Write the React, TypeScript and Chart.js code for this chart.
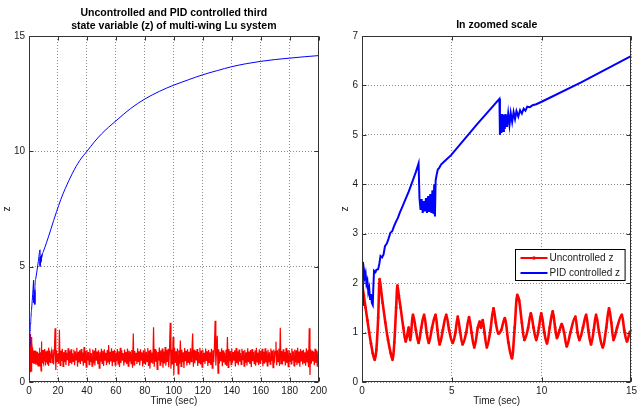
import React, { useEffect, useRef } from "react";
import { Chart, registerables } from "chart.js";
Chart.register(...registerables);

// ---------- DATA ----------
// Uncontrolled z, detailed window 0..15 s  [t, z]
const uncontrolledZoom: [number, number][] = [
  [0, 2.0], [0.1, 1.75], [0.2, 1.5], [0.3, 1.25], [0.4, 1.0], [0.5, 0.78], [0.6, 0.58], [0.71, 0.45],
  [0.8, 0.65], [0.9, 1.3], [0.98, 2.08], [1.05, 1.9], [1.15, 1.6], [1.3, 1.2], [1.45, 0.85], [1.6, 0.58],
  [1.7, 0.45], [1.8, 0.8], [1.9, 1.5], [1.97, 1.95], [2.05, 1.75], [2.15, 1.5], [2.3, 1.1], [2.43, 0.82],
  [2.52, 0.95], [2.6, 1.1], [2.68, 0.85], [2.84, 1.36], [3.0, 1.05], [3.15, 0.79], [3.3, 1.1], [3.46, 1.36],
  [3.6, 1.0], [3.72, 0.79], [3.9, 1.1], [4.1, 1.36], [4.2, 1.05], [4.32, 0.76], [4.5, 1.05], [4.69, 1.36],
  [4.85, 1.05], [5.05, 0.79], [5.2, 1.0], [5.33, 1.32], [5.45, 1.05], [5.6, 0.76], [5.8, 1.0], [5.96, 1.31],
  [6.1, 1.0], [6.25, 0.7], [6.45, 1.1], [6.55, 1.22], [6.62, 1.1], [6.72, 1.25], [6.82, 1.0], [6.95, 0.7],
  [7.15, 1.05], [7.32, 1.49], [7.45, 1.2], [7.59, 0.98], [7.75, 1.05], [7.95, 1.29], [8.15, 0.8], [8.35, 0.48],
  [8.5, 1.1], [8.64, 1.76], [8.75, 1.65], [8.9, 1.2], [9.04, 0.85], [9.25, 1.1], [9.4, 1.39], [9.55, 1.1],
  [9.7, 0.85], [9.85, 1.1], [9.98, 1.39], [10.15, 1.0], [10.3, 0.78], [10.45, 1.1], [10.62, 1.43], [10.75, 1.1],
  [10.85, 0.89], [11.0, 1.05], [11.12, 1.17], [11.25, 1.0], [11.4, 0.72], [11.6, 1.0], [11.88, 1.32], [12.0, 1.0],
  [12.1, 0.85], [12.3, 1.1], [12.48, 1.36], [12.6, 1.05], [12.75, 0.76], [12.9, 1.05], [13.03, 1.36], [13.2, 1.0],
  [13.4, 0.7], [13.6, 1.1], [13.75, 1.49], [13.88, 1.2], [14.0, 0.85], [14.2, 1.1], [14.47, 1.36], [14.6, 1.05],
  [14.75, 0.82], [14.9, 1.0], [15.0, 1.05],
];

// Uncontrolled z, long run: one sample every 0.5 s starting at t = 15.5 s
const noiseStartTime = 15.5;
const noiseStep = 0.5;
const uncontrolledLongRun: number[] = [
  1.32, 0.84, 1.41, 0.76, 1.29, 2.33, 0.52, 1.38, 0.88, 1.25,
  0.79, 2.27, 0.72, 1.36, 0.91, 1.44, 0.68, 1.30, 0.86, 1.39,
  0.74, 1.27, 0.94, 1.46, 0.70, 1.35, 0.83, 1.42, 0.77, 1.24,
  0.89, 1.40, 0.73, 1.33, 0.96, 1.48, 0.66, 1.31, 0.85, 1.37,
  0.78, 1.43, 0.90, 1.28, 0.71, 1.52, 0.82, 1.34, 0.64, 1.39,
  0.93, 1.30, 0.75, 1.45, 0.87, 1.26, 0.69, 1.41, 0.80, 1.36,
  0.72, 1.47, 0.92, 1.32, 0.77, 1.38, 0.60, 1.29, 0.88, 1.44,
  0.81, 1.35, 0.70, 1.42, 0.95, 1.27, 0.74, 1.39, 0.84, 1.60,
  0.76, 1.31, 0.89, 1.46, 0.68, 1.34, 0.86, 1.40, 0.73, 1.28,
  0.90, 1.43, 0.79, 1.33, 0.65, 1.48, 0.83, 1.37, 0.92, 1.25,
  0.71, 1.41, 0.85, 1.30, 0.77, 1.45, 0.69, 1.36, 0.88, 1.32,
  0.80, 1.39, 0.62, 2.10, 0.74, 1.34, 0.91, 1.27, 0.78, 1.46,
  0.86, 1.33, 0.72, 1.42, 0.95, 1.29, 0.67, 1.38, 0.82, 1.44,
  0.75, 1.31, 0.89, 1.47, 0.70, 1.36, 0.58, 1.40, 0.84, 1.28,
  0.79, 2.37, 0.66, 1.43, 0.88, 1.35, 0.55, 1.30, 0.92, 1.49,
  0.73, 1.37, 0.85, 1.45, 0.62, 1.32, 0.80, 1.52, 0.71, 1.39,
  0.87, 1.44, 0.64, 1.36, 2.57, 0.58, 1.41, 0.76, 1.95, 0.30,
  1.48, 0.82, 1.33, 0.70, 1.45, 0.35, 1.38, 0.79, 1.80, 0.68,
  1.40, 0.86, 1.29, 0.61, 1.47, 0.90, 1.35, 0.72, 1.42, 0.83,
  1.31, 0.75, 1.46, 0.88, 1.37, 2.10, 0.66, 1.40, 0.81, 1.34,
  0.93, 1.43, 0.70, 1.30, 0.84, 1.48, 0.76, 1.36, 0.64, 1.41,
  0.87, 1.27, 0.78, 1.45, 0.91, 1.33, 0.69, 1.39, 0.82, 1.29,
  0.74, 1.44, 0.60, 1.38, 0.86, 1.47, 2.66, 0.72, 1.35, 2.00,
  0.38, 1.42, 0.80, 1.31, 0.90, 1.46, 0.68, 1.37, 0.85, 1.28,
  0.77, 1.40, 0.70, 1.95, 0.63, 1.43, 0.89, 1.34, 0.75, 1.45,
  0.84, 1.30, 0.92, 1.38, 0.67, 1.47, 0.81, 1.33, 0.73, 1.41,
  0.88, 1.26, 0.76, 1.44, 0.94, 1.35, 0.69, 1.40, 0.83, 1.29,
  0.72, 1.46, 0.86, 1.32, 0.78, 1.39, 0.65, 1.43, 0.90, 1.30,
  0.80, 1.37, 0.71, 1.48, 0.87, 1.28, 0.74, 1.42, 0.82, 1.35,
  0.93, 1.44, 0.68, 1.31, 0.79, 1.46, 0.85, 1.33, 0.70, 1.40,
  0.86, 1.29, 0.77, 1.45, 0.91, 1.36, 0.62, 1.41, 0.84, 1.32,
  1.75, 0.73, 1.38, 0.88, 1.44, 0.69, 2.35, 0.80, 1.34, 0.76,
  1.42, 0.90, 1.30, 0.72, 1.47, 0.83, 1.36, 0.67, 1.39, 0.87,
  1.27, 0.78, 1.45, 0.92, 1.33, 0.70, 1.41, 0.85, 1.37, 0.74,
  1.48, 0.81, 1.32, 0.66, 1.43, 0.89, 1.35, 0.76, 1.40, 0.84,
  1.29, 0.71, 1.46, 0.87, 1.38, 0.64, 2.33, 0.30, 1.42, 0.79,
  1.36, 0.90, 1.31, 0.73, 1.44, 0.82, 1.37, 0.69, 1.33, 0.95,
];

// PID controlled z, detailed window 0..15 s  [t, z]
const pidZoom: [number, number][] = [
  [0, 1.56], [0.05, 2.43], [0.1, 2.3], [0.15, 2.12], [0.2, 2.2], [0.25, 1.98], [0.3, 2.05], [0.35, 1.82],
  [0.4, 1.9], [0.45, 1.68], [0.5, 1.78], [0.55, 1.6], [0.6, 1.56], [0.63, 1.9], [0.67, 2.25], [0.75, 2.22],
  [0.8, 2.27], [0.9, 2.28], [0.97, 2.4], [1.03, 2.55], [1.12, 2.52], [1.2, 2.58], [1.28, 2.75], [1.38, 2.8],
  [1.48, 2.9], [1.58, 3.02], [1.68, 3.05], [1.78, 3.15], [1.9, 3.25], [2.0, 3.32], [2.1, 3.42], [2.25, 3.55],
  [2.4, 3.68], [2.6, 3.85], [2.8, 4.05], [3.0, 4.25], [3.15, 4.42],
  [3.2, 3.72], [3.26, 3.48], [3.32, 3.7], [3.38, 3.42], [3.44, 3.66], [3.5, 3.45], [3.56, 3.72], [3.62, 3.42],
  [3.68, 3.76], [3.74, 3.44], [3.8, 3.8], [3.86, 3.42], [3.92, 3.88], [3.98, 3.4], [4.02, 4.0], [4.06, 3.35],
  [4.1, 4.08], [4.16, 4.2], [4.22, 4.3], [4.3, 4.33], [4.4, 4.4], [4.55, 4.45], [4.7, 4.5], [4.96, 4.59],
  [6.4, 5.21], [7.65, 5.73],
  [7.68, 5.0], [7.72, 5.42], [7.76, 5.04], [7.8, 5.42], [7.85, 5.08], [7.9, 5.41], [7.95, 5.12], [8.0, 5.42],
  [8.07, 5.16], [8.14, 5.43], [8.21, 5.2], [8.28, 5.44], [8.36, 5.26], [8.44, 5.46], [8.52, 5.32], [8.6, 5.48],
  [8.7, 5.37], [8.8, 5.5], [8.9, 5.43], [9.0, 5.53], [9.1, 5.49], [9.2, 5.57], [9.35, 5.56], [9.5, 5.6],
  [9.7, 5.62], [10.0, 5.67], [12.2, 6.06], [15, 6.6],
];

// PID controlled z, long run beyond the zoom window  [t, z]
const pidLongRun: [number, number][] = [
  [17, 7.0], [19, 7.38], [22, 7.92], [25, 8.38], [30, 9.05], [35, 9.6], [40, 10.0], [45, 10.4],
  [50, 10.75], [55, 11.05], [60, 11.32], [70, 11.85], [80, 12.27], [90, 12.6], [100, 12.87], [110, 13.1],
  [120, 13.32], [130, 13.5], [140, 13.67], [150, 13.8], [160, 13.9], [170, 13.98], [180, 14.04], [190, 14.1],
  [200, 14.15],
];

const leftTitle = ["Uncontrolled and PID controlled third", "state variable (z) of multi-wing Lu system"];
const rightTitle = "In zoomed scale";
const xTitle = "Time (sec)";
const yTitle = "z";
const labelUncontrolled = "Uncontrolled z";
const labelPid = "PID controlled z";

// ---------- STYLE ----------
const FONT = "'Liberation Sans', Arial, Helvetica, sans-serif";
const TEXT = "#1a1a1a";
const RED = "#ff0000";
const BLUE = "#0000ff";

const toXY = (arr: [number, number][]) => arr.map(([x, y]) => ({ x, y }));

const framePlugin = {
  id: "matlabFrame",
  afterDatasetsDraw(chart: any) {
    const { ctx, chartArea, scales } = chart;
    const l = Math.round(chartArea.left) + 0.5;
    const r = Math.round(chartArea.right) - 0.5;
    const t = Math.round(chartArea.top) + 0.5;
    const b = Math.round(chartArea.bottom) - 0.5;
    ctx.save();
    ctx.strokeStyle = "#333333";
    ctx.lineWidth = 1;
    ctx.setLineDash([]);
    ctx.strokeRect(l, t, r - l, b - t);
    const tl = 4;
    ctx.beginPath();
    scales.x.ticks.forEach((tk: any) => {
      const px = Math.round(scales.x.getPixelForValue(tk.value)) + 0.5;
      ctx.moveTo(px, b); ctx.lineTo(px, b - tl);
      ctx.moveTo(px, t); ctx.lineTo(px, t + tl);
    });
    scales.y.ticks.forEach((tk: any) => {
      const py = Math.round(scales.y.getPixelForValue(tk.value)) + 0.5;
      ctx.moveTo(l, py); ctx.lineTo(l + tl, py);
      ctx.moveTo(r, py); ctx.lineTo(r - tl, py);
    });
    ctx.stroke();
    ctx.restore();
  },
};

const boxLegendPlugin = {
  id: "boxLegend",
  afterDraw(chart: any) {
    const { ctx, chartArea } = chart;
    const ds = chart.data.datasets;
    ctx.save();
    ctx.font = `10px ${FONT}`;
    const textW = Math.max(...ds.map((d: any) => ctx.measureText(d.label).width));
    const lineLen = 27;
    const w = 5 + lineLen + 2 + textW + 5;
    const h = 31;
    const x0 = Math.round(chartArea.right - 7 - w) + 0.5;
    const y0 = Math.round(chartArea.top + 213) + 0.5;
    ctx.fillStyle = "#ffffff";
    ctx.fillRect(x0, y0, w, h);
    ctx.strokeStyle = "#000000";
    ctx.lineWidth = 1;
    ctx.strokeRect(x0, y0, w, h);
    ds.forEach((d: any, i: number) => {
      const cy = y0 + 8.5 + i * 15;
      ctx.strokeStyle = d.borderColor;
      ctx.lineWidth = 2;
      ctx.beginPath();
      ctx.moveTo(x0 + 5, cy);
      ctx.lineTo(x0 + 5 + lineLen, cy);
      ctx.stroke();
      if (d.pointRadius > 0) {
        ctx.fillStyle = d.borderColor;
        ctx.beginPath();
        ctx.arc(x0 + 5 + lineLen / 2, cy, 1.8, 0, Math.PI * 2);
        ctx.fill();
      }
      ctx.fillStyle = TEXT;
      ctx.textBaseline = "middle";
      ctx.textAlign = "left";
      ctx.fillText(d.label, x0 + 5 + lineLen + 2, cy + 0.5);
    });
    ctx.restore();
  },
};

function axisCommon(min: number, max: number, step: number) {
  return {
    type: "linear" as const,
    min,
    max,
    ticks: {
      stepSize: step,
      autoSkip: false,
      maxRotation: 0,
      color: TEXT,
      font: { family: FONT, size: 10 },
      padding: 4,
    },
    grid: { color: "#8c8c8c", lineWidth: 1, drawTicks: false },
    border: { display: false, dash: [1, 2] },
  };
}

function makeConfig(opts: {
  datasets: any[];
  title: string | string[];
  titlePad: { top: number; bottom: number };
  xMax: number;
  xStep: number;
  yMax: number;
  yStep: number;
  yWidth: number;
  yTitlePad: number;
  padRight: number;
  extraPlugins: any[];
}) {
  const x: any = axisCommon(0, opts.xMax, opts.xStep);
  x.ticks.padding = 3;
  x.afterFit = (s: any) => { s.height = 28; };
  x.title = { display: true, text: xTitle, color: TEXT, font: { family: FONT, size: 10 }, padding: { top: 0, bottom: 3 } };
  const y: any = axisCommon(0, opts.yMax, opts.yStep);
  y.afterFit = (s: any) => { s.width = opts.yWidth; };
  y.title = { display: true, text: yTitle, color: TEXT, font: { family: FONT, size: 10 }, padding: { top: opts.yTitlePad, bottom: 0 } };
  return {
    type: "line" as const,
    data: { datasets: opts.datasets },
    options: {
      animation: false as const,
      responsive: false,
      maintainAspectRatio: false,
      layout: { padding: { left: 0, right: opts.padRight, top: 0, bottom: 0 } },
      plugins: {
        legend: { display: false },
        tooltip: { enabled: false },
        title: {
          display: true,
          text: opts.title,
          color: "#000000",
          fullSize: false,
          font: { family: FONT, size: 10.5, weight: "bold" as const, lineHeight: 1.2 },
          padding: opts.titlePad,
        },
      },
      scales: { x, y },
    },
    plugins: [framePlugin, ...opts.extraPlugins],
  };
}

export default function App() {
  const leftRef = useRef<HTMLCanvasElement | null>(null);
  const rightRef = useRef<HTMLCanvasElement | null>(null);

  useEffect(() => {
    const redLeft = [
      ...toXY(uncontrolledZoom),
      ...uncontrolledLongRun.map((v, i) => ({ x: noiseStartTime + i * noiseStep, y: v })),
    ];
    const blueLeft = [...toXY(pidZoom), ...toXY(pidLongRun)];

    const left = new Chart(
      leftRef.current as HTMLCanvasElement,
      makeConfig({
        datasets: [
          { label: labelPid, data: blueLeft, borderColor: BLUE, borderWidth: 1, pointRadius: 0, cubicInterpolationMode: "monotone" },
          { label: labelUncontrolled, data: redLeft, borderColor: RED, borderWidth: 1.2, pointRadius: 0 },
        ],
        title: leftTitle,
        titlePad: { top: 7, bottom: 3.8 },
        xMax: 200,
        xStep: 20,
        yMax: 15,
        yStep: 5,
        yWidth: 29,
        yTitlePad: 1,
        padRight: 9,
        extraPlugins: [],
      }) as any
    );

    const right = new Chart(
      rightRef.current as HTMLCanvasElement,
      makeConfig({
        datasets: [
          {
            label: labelUncontrolled, data: toXY(uncontrolledZoom), borderColor: RED, backgroundColor: RED,
            borderWidth: 2.6, pointRadius: 1.4, pointStyle: "circle", pointBorderWidth: 0, pointBackgroundColor: RED,
            cubicInterpolationMode: "monotone", order: 1,
          },
          { label: labelPid, data: toXY(pidZoom), borderColor: BLUE, borderWidth: 2, pointRadius: 0, order: 0 },
        ],
        title: rightTitle,
        titlePad: { top: 18.7, bottom: 4.7 },
        xMax: 15,
        xStep: 5,
        yMax: 7,
        yStep: 1,
        yWidth: 32,
        yTitlePad: 9,
        padRight: 2,
        extraPlugins: [boxLegendPlugin],
      }) as any
    );

    return () => {
      left.destroy();
      right.destroy();
    };
  }, []);

  return (
    <div style={{ position: "absolute", left: 0, top: 0, width: 640, height: 410, background: "#ffffff" }}>
      <canvas ref={leftRef} width={330} height={410} style={{ position: "absolute", left: 0, top: 0, width: 330, height: 410 }} />
      <canvas ref={rightRef} width={310} height={410} style={{ position: "absolute", left: 330, top: 0, width: 310, height: 410 }} />
    </div>
  );
}
